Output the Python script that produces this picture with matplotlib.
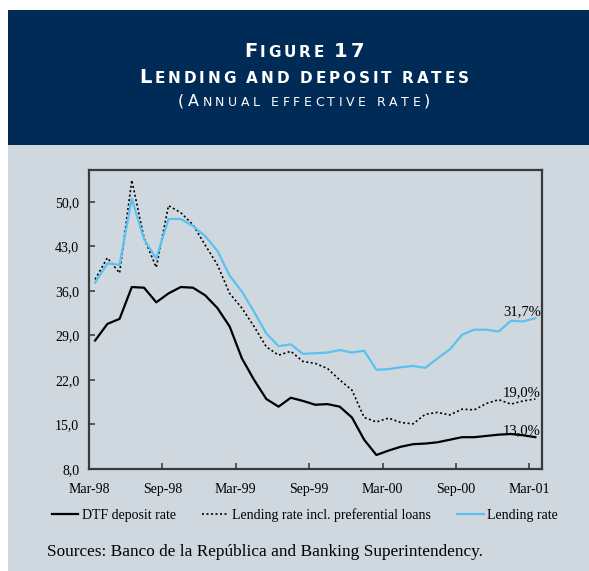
import matplotlib
matplotlib.use("Agg")
import matplotlib.pyplot as plt
from matplotlib.patches import Rectangle

# Monthly data, Mar-98 .. Mar-01 (annual effective rate, %)
dtf_rate = [28.2, 30.8, 31.6, 36.6, 36.5, 34.2, 35.6, 36.6, 36.5, 35.3, 33.3, 30.4, 25.4,
            22.0, 19.0, 17.8, 19.2, 18.7, 18.1, 18.2, 17.8, 16.1, 12.6, 10.2, 10.9, 11.5,
            11.9, 12.0, 12.2, 12.6, 13.0, 13.0, 13.2, 13.4, 13.5, 13.3, 13.0]
lending_pref = [37.8, 41.2, 38.8, 53.4, 44.3, 39.7, 49.4, 48.3, 46.4, 43.2, 40.1, 35.6, 33.3,
                30.4, 27.2, 25.9, 26.5, 24.9, 24.6, 23.8, 22.0, 20.4, 16.1, 15.4, 16.0, 15.3,
                15.1, 16.6, 16.9, 16.5, 17.4, 17.3, 18.3, 18.9, 18.2, 18.7, 19.0]
lending_rate = [37.3, 40.3, 40.1, 50.5, 44.1, 41.1, 47.3, 47.3, 46.2, 44.6, 42.3, 38.4, 35.9,
                32.7, 29.3, 27.3, 27.6, 26.1, 26.2, 26.3, 26.7, 26.3, 26.6, 23.6, 23.7, 24.0,
                24.2, 23.9, 25.4, 26.8, 29.1, 29.9, 29.9, 29.6, 31.3, 31.2, 31.7]
tick_labels = ["Mar-98", "Sep-98", "Mar-99", "Sep-99", "Mar-00", "Sep-00", "Mar-01"]
y_ticks = [8, 15, 22, 29, 36, 43, 50]

NAVY = "#002b57"
PANEL = "#cfd8df"
BLUE = "#5bc2ee"
SERIF = ["Liberation Serif", "DejaVu Serif"]

W, H = 589, 571
fig = plt.figure(figsize=(W / 100, H / 100), dpi=100)
fig.patch.set_facecolor("white")

# header box and grey panel
fig.add_artist(Rectangle((8 / W, 1 - 145 / H), 1, 135 / H, transform=fig.transFigure,
                         facecolor=NAVY, edgecolor="none", zorder=0))
fig.add_artist(Rectangle((8 / W, 0), 1, 1 - 145 / H, transform=fig.transFigure,
                         facecolor=PANEL, edgecolor="none", zorder=0))


def small_caps(text, xc, y_px, size, small, width_px, weight="normal"):
    """Fake small caps: one text per glyph, tracked out to a target width."""
    r = fig.canvas.get_renderer()
    items = []
    for ch in text:
        if ch == " ":
            items.append((None, small * 0.32 * 100 / 72))
            continue
        fs = small if ch.islower() else size
        t = fig.text(0, 1 - y_px / H, ch.upper(), fontsize=fs, color="white",
                     family="DejaVu Sans", weight=weight, va="baseline", ha="left")
        items.append((t, t.get_window_extent(r).width))
    natural = sum(w for _, w in items)
    track = (width_px - natural) / (len(items) - 1)
    x = xc - width_px / 2
    for t, w in items:
        if t is not None:
            t.set_x(x / W)
        x += w + track


small_caps("Figure 17", 304, 57, 14, 11, 120, weight="bold")
small_caps("Lending and deposit rates", 304, 83, 14, 11, 330, weight="bold")
small_caps("(Annual effective rate)", 304, 106, 11.5, 9, 252)

ax = fig.add_axes([89 / W, 1 - 469 / H, (541.5 - 89) / W, (469 - 170) / H])
ax.set_facecolor(PANEL)
x = list(range(len(dtf_rate)))
ax.plot(x, dtf_rate, color="black", lw=1.6, label="DTF deposit rate")
ax.plot(x, lending_pref, color="black", lw=1.2, ls=(0, (1.2, 1.5)),
        label="Lending rate incl. preferential loans")
ax.plot(x, lending_rate, color=BLUE, lw=1.6, label="Lending rate")

ax.set_xlim(-0.5, len(x) - 0.5)
ax.set_ylim(8, 55)
ax.set_xticks([-0.5 + 6 * k for k in range(len(tick_labels))], tick_labels)
ax.set_yticks(y_ticks, [f"{v:.1f}".replace(".", ",") for v in y_ticks])
ax.tick_params(direction="in", length=4, width=1.2, color="#404040", labelsize=10)
ax.tick_params(axis="x", pad=10)
ax.tick_params(axis="y", pad=7)
for lab in ax.get_xticklabels() + ax.get_yticklabels():
    lab.set_family(SERIF)
for sp in ax.spines.values():
    sp.set_color("#3a3a3a")
    sp.set_linewidth(1.6)

for series in (lending_rate, lending_pref, dtf_rate):
    ax.annotate(f"{series[-1]:.1f}%".replace(".", ","), xy=(x[-1], series[-1]),
                xytext=(4, 0), textcoords="offset points", ha="right", va="bottom",
                fontsize=10.5, family=SERIF)

fig.legend(loc="center", bbox_to_anchor=(305 / W, 1 - 515 / H), ncol=3, frameon=False,
           prop={"family": SERIF, "size": 10}, handlelength=1.9, handletextpad=0.25,
           columnspacing=1.9)

fig.text(47 / W, 1 - 556 / H, "Sources: Banco de la República and Banking Superintendency.",
         fontsize=12.4, family=SERIF, ha="left", va="baseline")

fig.savefig("out.png", dpi=100)
